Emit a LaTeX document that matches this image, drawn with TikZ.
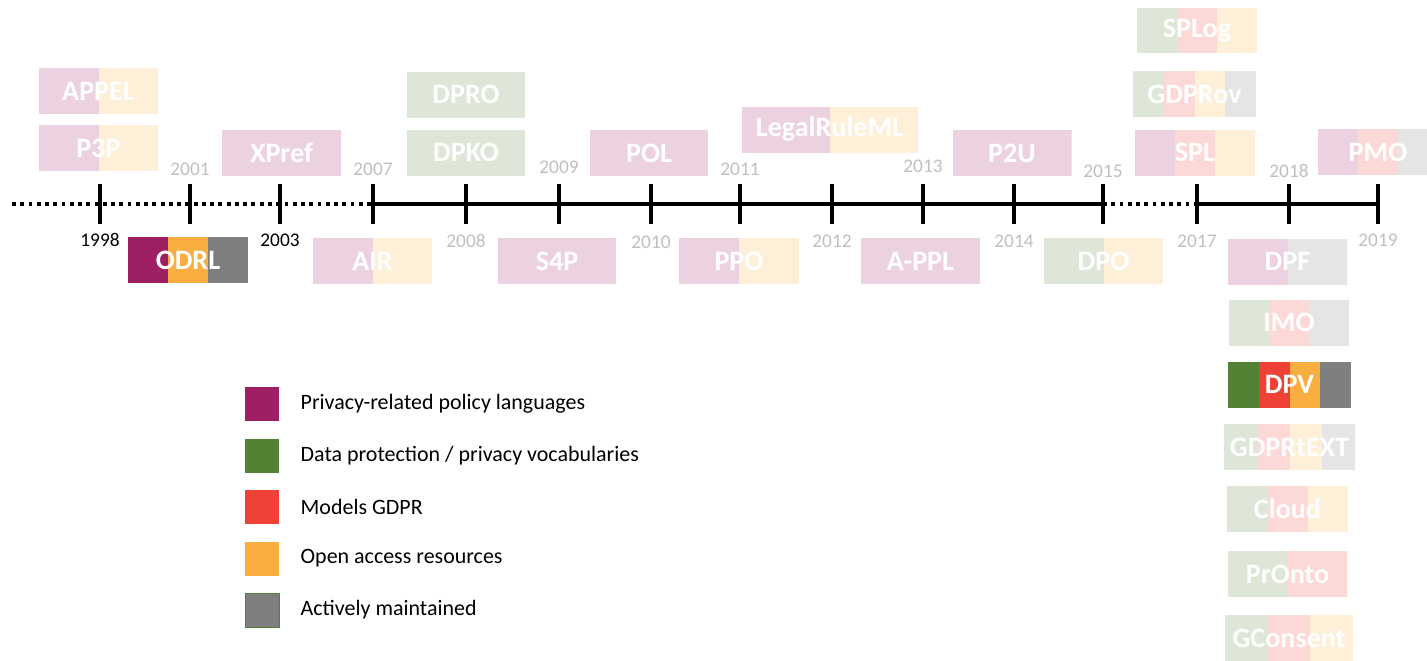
\documentclass[tikz,border=0pt]{standalone}
\usepackage{fontspec}
\setmainfont{Carlito}
\usepackage{tikz}
\usetikzlibrary{positioning,calc}
\definecolor{plpurple}{HTML}{9E1F63}
\definecolor{dpgreen}{HTML}{548235}
\definecolor{gdprred}{HTML}{EF4136}
\definecolor{oaorange}{HTML}{F9AE42}
\definecolor{maingray}{HTML}{7F7F7F}
\definecolor{yrgray}{HTML}{BFBFBF}

\begin{document}
\begin{tikzpicture}[
  x=0.02cm, y=-0.02cm,
  tool/.style={minimum width=2.38cm, minimum height=0.92cm, inner sep=0pt,
               text=white, font=\fontsize{16}{18}\selectfont\bfseries},
  bands/.style={path picture={
    \foreach \c [count=\n] in {#1} {\xdef\nbands{\n}}
    \foreach \c [count=\n] in {#1} {
      \pgfmathsetmacro{\fa}{(\n-1)/\nbands}
      \pgfmathsetmacro{\fb}{\n/\nbands}
      \fill[\c] ($(path picture bounding box.south west)!\fa!(path picture bounding box.south east)$)
        rectangle ($(path picture bounding box.north west)!\fb!(path picture bounding box.north east)$);
    }}},
  tick/.style={line width=2.3pt},
  solidline/.style={line width=2.1pt},
  dotline/.style={line width=1.9pt, dash pattern=on 2.2pt off 2.5pt},
  yearlbl/.style={inner sep=0pt, font=\fontsize{11}{13}\selectfont},
  legbox/.style={minimum size=0.68cm, inner sep=0pt},
  legtext/.style={inner sep=0pt, anchor=west, font=\fontsize{12.5}{14}\selectfont},
]
\useasboundingbox (0,0) rectangle (1427,660);

% timeline
\coordinate (tstart) at (12,204);
\foreach \yr/\px/\ly/\col in {1998/100/240/black, 2001/190/169/yrgray, 2003/280/240/black,
    2007/373/169/yrgray, 2008/466/241/yrgray, 2009/559/167/yrgray, 2010/651/242/yrgray,
    2011/740/169/yrgray, 2012/832/241/yrgray, 2013/923/166/yrgray, 2014/1014/241/yrgray,
    2015/1103/171/yrgray, 2017/1197/241/yrgray, 2018/1289/171/yrgray, 2019/1378/240/yrgray}
{
  \coordinate (t\yr) at (\px,204);
  \node[yearlbl, text=\col] (l\yr) at (\px,\ly) {\yr};
}
\draw[dotline] (tstart) -- (t2007);
\draw[solidline] (t2007) -- (t2015);
\draw[dotline] (t2015) -- (t2017);
\draw[solidline] (t2017) -- (t2019);
\foreach \yr in {1998,2001,2003,2007,2008,2009,2010,2011,2012,2013,2014,2015,2017,2018,2019}
  \draw[tick] ([yshift=0.4cm]t\yr) -- ([yshift=-0.4cm]t\yr);

% above the line
\node[tool, bands={plpurple!20,oaorange!20}] (appel) at (98.5,91) {APPEL};
\node[tool, bands={plpurple!20,oaorange!20}] (p3p) at (98.5,148) {P3P};
\node[tool, bands={plpurple!20}] (xpref) at (281.5,152.5) {XPref};
\node[tool, bands={dpgreen!20}] (dpro) at (466,94.5) {DPRO};
\node[tool, bands={dpgreen!20}] (dpko) at (466,152.5) {DPKO};
\node[tool, bands={plpurple!20}] (pol) at (649,153) {POL};
\node[tool, minimum width=3.52cm, bands={plpurple!20,oaorange!20}] (legalruleml) at (830,129.5) {LegalRuleML};
\node[tool, bands={plpurple!20}] (p2u) at (1012,153) {P2U};
\node[tool, minimum width=2.4cm, bands={dpgreen!20,gdprred!20,oaorange!20}] (splog) at (1197,30.5) {SPLog};
\node[tool, minimum width=2.46cm, bands={dpgreen!20,gdprred!20,oaorange!20,maingray!20}] (gdprov) at (1194.5,94) {GDPRov};
\node[tool, minimum width=2.4cm, bands={plpurple!20,gdprred!20,oaorange!20}] (spl) at (1195,152.5) {SPL};
\node[tool, minimum width=2.4cm, bands={plpurple!20,gdprred!20,maingray!20}] (pmo) at (1378,152) {PMO};

% below the line
\node[tool, minimum width=2.4cm, bands={plpurple,oaorange,maingray}] (odrl) at (188,260) {ODRL};
\node[tool, bands={plpurple!20,oaorange!20}] (air) at (372.5,261) {AIR};
\node[tool, bands={plpurple!20}] (s4p) at (557,261) {S4P};
\node[tool, minimum width=2.4cm, bands={plpurple!20,oaorange!20}] (ppo) at (739,261) {PPO};
\node[tool, bands={plpurple!20}] (appl) at (920.5,261) {A-PPL};
\node[tool, bands={dpgreen!20,oaorange!20}] (dpo) at (1103.5,261) {DPO};
\node[tool, bands={plpurple!20,maingray!20}] (dpf) at (1287.5,261.5) {DPF};
\node[tool, minimum width=2.4cm, bands={dpgreen!20,gdprred!20,maingray!20}] (imo) at (1289,322.5) {IMO};
\node[tool, minimum width=2.46cm, bands={dpgreen,gdprred,oaorange,maingray}] (dpv) at (1289.5,384.5) {DPV};
\node[tool, minimum width=2.62cm, bands={dpgreen!20,gdprred!20,oaorange!20,maingray!20}] (gdprtext) at (1289.5,447) {GDPRtEXT};
\node[tool, minimum width=2.42cm, bands={dpgreen!20,gdprred!20,oaorange!20}] (cloud) at (1287.5,509) {Cloud};
\node[tool, bands={dpgreen!20,gdprred!20}] (pronto) at (1287.5,574) {PrOnto};
\node[tool, minimum width=2.56cm, bands={dpgreen!20,gdprred!20,oaorange!20}] (gconsent) at (1289,638) {GConsent};

% legend
\node[legbox, fill=plpurple] (lg1) at (262,404) {};
\node[legbox, fill=dpgreen] (lg2) at (262,455.5) {};
\node[legbox, fill=gdprred] (lg3) at (262,506.5) {};
\node[legbox, fill=oaorange] (lg4) at (262,558.5) {};
\node[legbox, fill=maingray, draw=dpgreen, thin] (lg5) at (262,610) {};
\node[legtext, right=0.42cm of lg1] (lt1) {Privacy-related policy languages};
\node[legtext, right=0.42cm of lg2] (lt2) {Data protection / privacy vocabularies};
\node[legtext, right=0.42cm of lg3] (lt3) {Models GDPR};
\node[legtext, right=0.42cm of lg4] (lt4) {Open access resources};
\node[legtext, right=0.42cm of lg5] (lt5) {Actively maintained};
\end{tikzpicture}
\end{document}
